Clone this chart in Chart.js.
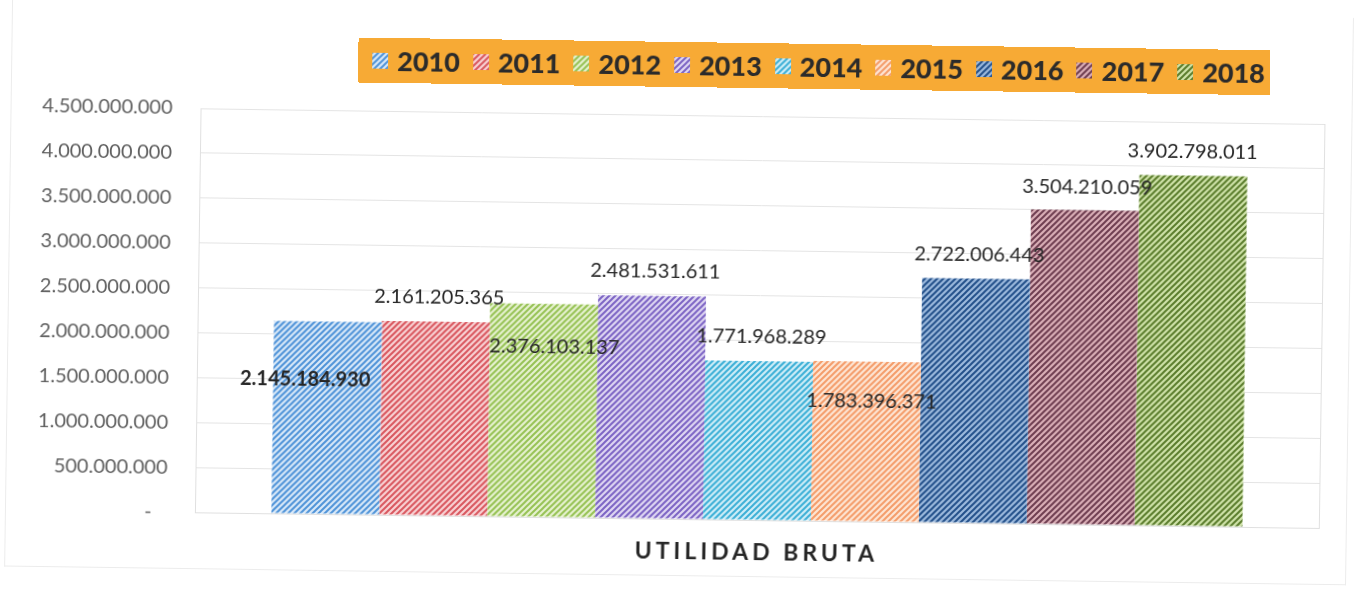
<!DOCTYPE html>
<html>
<head>
<meta charset="utf-8">
<title>Utilidad bruta</title>
<script src="https://cdn.jsdelivr.net/npm/chart.js@4.4.0/dist/chart.umd.min.js"></script>
<style>
html, body { margin: 0; padding: 0; background: #fff; }
#wrap { position: relative; width: 1358px; height: 591px; transform: rotate(0.8deg); transform-origin: 50% 50%; }
#frame { position: absolute; left: 8px; top: 8px; width: 1342px; height: 568px; border: 1px solid #ececec; border-top-color: transparent; box-sizing: border-box; }
#chart { position: absolute; left: 0; top: 0; }
#legend { position: absolute; left: 355px; top: 42px; width: 912px; height: 45px; background: #F7AA35;
  display: flex; align-items: center; padding-left: 14px; box-sizing: border-box;
  font: 900 27px Lato, sans-serif; color: #2b2b2b; }
.item { display: flex; align-items: center; margin-right: 13px; }
.item canvas { width: 16px; height: 16px; margin-right: 9px; }
</style>
</head>
<body>
<div id="wrap">
  <div id="frame"></div>
  <canvas id="chart" width="1358" height="591"></canvas>
  <div id="legend"></div>
</div>
<script>
// data
const categories = ['UTILIDAD BRUTA'];
const years = ['2010', '2011', '2012', '2013', '2014', '2015', '2016', '2017', '2018'];
const utilidad = [2145184930, 2161205365, 2376103137, 2481531611, 1771968289, 1783396371, 2722006443, 3504210059, 3902798011];
const yMax = 4500000000;
const yStep = 500000000;

// styles
const stripe = ['#4F93D8', '#D9575F', '#96C254', '#7C64C4', '#3CAFD6', '#F49C6A', '#23508A', '#6E3D50', '#5A7C2C'];
const paper  = ['#D8E8F8', '#F8D2D4', '#E6F1D0', '#DFD7F2', '#CFEDF7', '#FDE5D4', '#9DBADD', '#DBB0B8', '#D0E3AA'];
// label offset from bar top centre: dx, dy, bold
const labelPos = [[-22, 58, true], [3, -24], [11, 43], [3, -25], [2, -24], [5, 40], [3, -24], [2, -23], [-1, -24]];

function hatch(fg, bg) {
  const c = document.createElement('canvas');
  c.width = c.height = 6;
  const x = c.getContext('2d');
  x.fillStyle = bg;
  x.fillRect(0, 0, 6, 6);
  x.strokeStyle = fg;
  x.lineWidth = 2;
  x.beginPath();
  x.moveTo(0, 6); x.lineTo(6, 0);
  x.moveTo(-3, 3); x.lineTo(3, -3);
  x.moveTo(3, 9); x.lineTo(9, 3);
  x.stroke();
  return x.createPattern(c, 'repeat');
}

function fmt(v) {
  if (v === 0) return '-   ';
  return String(v).replace(/\B(?=(\d{3})+(?!\d))/g, '.');
}

const patterns = years.map((y, i) => hatch(stripe[i], paper[i]));

// html legend
const legend = document.getElementById('legend');
years.forEach((y, i) => {
  const item = document.createElement('div');
  item.className = 'item';
  const sw = document.createElement('canvas');
  sw.width = sw.height = 16;
  const sctx = sw.getContext('2d');
  sctx.fillStyle = patterns[i];
  sctx.fillRect(0, 0, 16, 16);
  item.appendChild(sw);
  const t = document.createElement('span');
  t.textContent = y;
  item.appendChild(t);
  legend.appendChild(item);
});

// x label gets letter spacing, y labels are drawn after the bars without it
const spacing = {
  id: 'spacing',
  beforeDraw(chart) { chart.ctx.letterSpacing = '4px'; },
  beforeDatasetsDraw(chart) { chart.ctx.letterSpacing = '0px'; },
  afterDraw(chart) { chart.ctx.letterSpacing = '0px'; }
};

const valueLabels = {
  id: 'valueLabels',
  afterDatasetsDraw(chart) {
    const ctx = chart.ctx;
    ctx.save();
    ctx.textAlign = 'center';
    ctx.textBaseline = 'middle';
    ctx.fillStyle = '#262626';
    chart.data.datasets.forEach((ds, i) => {
      const bar = chart.getDatasetMeta(i).data[0];
      const p = labelPos[i];
      ctx.font = (p[2] ? 'bold ' : '') + '20px Lato';
      ctx.fillText(fmt(ds.data[0]), bar.x + p[0], bar.y + p[1]);
    });
    ctx.restore();
  }
};

const ctx = document.getElementById('chart').getContext('2d');
const chart = new Chart(ctx, {
  type: 'bar',
  data: {
    labels: categories,
    datasets: years.map((y, i) => ({
      label: y,
      data: [utilidad[i]],
      backgroundColor: patterns[i],
      borderWidth: 0,
      categoryPercentage: 0.864,
      barPercentage: 1
    }))
  },
  options: {
    responsive: false,
    animation: false,
    layout: { padding: { top: 115, right: 36, left: 0, bottom: 0 } },
    plugins: { legend: { display: false }, tooltip: { enabled: false } },
    scales: {
      x: {
        grid: { color: '#e0e0e0', drawTicks: false, offset: true },
        border: { color: '#e0e0e0' },
        ticks: { padding: 19, color: '#262626', font: { family: 'Lato', size: 23, weight: 'bold' } },
        afterFit(s) { s.height = 72; }
      },
      y: {
        min: 0,
        max: yMax,
        grid: { color: '#e4e4e4', drawTicks: false },
        border: { color: '#e0e0e0' },
        ticks: { stepSize: yStep, padding: 28, z: 1, color: '#5f5f5f', font: { family: 'Lato', size: 20 }, callback: v => fmt(v) },
        afterFit(s) { s.width = 198; }
      }
    }
  },
  plugins: [spacing, valueLabels]
});
</script>
</body>
</html>
